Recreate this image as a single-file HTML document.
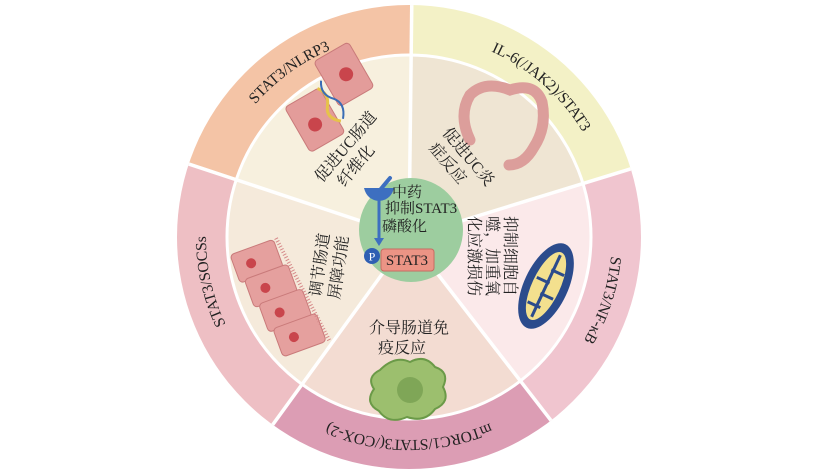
<!DOCTYPE html>
<html><head><meta charset="utf-8"><style>
html,body{margin:0;padding:0;background:#fff;width:817px;height:470px;overflow:hidden;}
svg{display:block;overflow:hidden;}
text{font-family:"Liberation Serif","Noto Serif CJK SC","Noto Sans CJK SC",serif;fill:#222;}
</style></head><body>
<svg width="817" height="470" viewBox="0 0 817 470" xmlns="http://www.w3.org/2000/svg">
<defs>
<clipPath id="outer"><circle cx="409" cy="237" r="232"/></clipPath>
<clipPath id="inner"><circle cx="409" cy="237" r="182"/></clipPath>
<path id="ring" d="M409 30 A207 207 0 1 1 408.99 30"/>
</defs>
<g clip-path="url(#outer)">
<polygon points="409,237 413,-100 -451,-48" fill="#f4c4a6"/>
<polygon points="409,237 413,-100 1304,-100 1304,-38" fill="#f3f1c6"/>
<polygon points="409,237 1304,-38 1304,967 974,967" fill="#f0c5cf"/>
<polygon points="409,237 974,967 -121,967" fill="#dc9db4"/>
<polygon points="409,237 -121,967 -451,967 -451,-48" fill="#eebfc4"/>
</g>
<g clip-path="url(#inner)">
<polygon points="409,237 413,-100 -451,-48" fill="#f7f0de"/>
<polygon points="409,237 413,-100 1304,-100 1304,-38" fill="#efe5d3"/>
<polygon points="409,237 1304,-38 1304,967 974,967" fill="#fbe9ea"/>
<polygon points="409,237 974,967 -121,967" fill="#f3dcd2"/>
<polygon points="409,237 -121,967 -451,967 -451,-48" fill="#f5eadb"/>
</g>
<circle cx="409" cy="237" r="182" fill="none" stroke="#fff" stroke-width="3"/>
<g stroke="#fff" stroke-width="3.5" clip-path="url(#outer)">
<line x1="409" y1="237" x2="413" y2="-100"/>
<line x1="409" y1="237" x2="-451" y2="-48"/>
<line x1="409" y1="237" x2="1304" y2="-38"/>
<line x1="409" y1="237" x2="974" y2="967"/>
<line x1="409" y1="237" x2="-121" y2="967"/>
</g>
<g font-size="15.5" dominant-baseline="middle" text-anchor="middle">
<text><textPath href="#ring" startOffset="90%">STAT3/NLRP3</textPath></text>
<text><textPath href="#ring" startOffset="11.5%">IL-6(/JAK2)/STAT3</textPath></text>
<text><textPath href="#ring" startOffset="30%">STAT3/NF-κB</textPath></text>
<text><textPath href="#ring" startOffset="50%">mTORC1/STAT3(/COX-2)</textPath></text>
<text><textPath href="#ring" startOffset="71.5%">STAT3/SOCSs</textPath></text>
</g>
<g transform="translate(-14 -12) rotate(-30 345 110)">
<rect x="300" y="95" width="40" height="52" rx="4" fill="#e39c9a" stroke="#c97a7a"/>
<rect x="348" y="70" width="40" height="52" rx="4" fill="#e39c9a" stroke="#c97a7a"/>
<circle cx="318" cy="125" r="7" fill="#c9454c"/>
<circle cx="370" cy="97" r="7" fill="#c9454c"/>
<path d="M338 95 q8 10 0 20 q-8 10 4 20" stroke="#e6c24a" stroke-width="3" fill="none"/>
<path d="M345 90 q-8 12 2 22 q8 10 -2 22" stroke="#3a6db5" stroke-width="2" fill="none"/>
</g>
<path d="M470 140 q-12 -25 0 -45 q15 -15 40 -5 q25 -8 32 12 q5 25 -8 45 q-10 18 -25 18" stroke="#dc9e9b" stroke-width="11" fill="none" stroke-linecap="round"/>
<g transform="rotate(-65 546 286)">
<ellipse cx="546" cy="286" rx="46" ry="22" fill="#2b4b8c"/>
<ellipse cx="546" cy="286" rx="37" ry="14" fill="#f3e08e"/>
<path d="M512 286 h68 M524 276 v14 M537 298 v-14 M550 274 v14 M563 298 v-14" stroke="#2b4b8c" stroke-width="3"/>
</g>
<g transform="rotate(-20 280 290)">
<rect x="245" y="240" width="46" height="30" rx="4" fill="#e5a09e" stroke="#c97a7a"/>
<rect x="250" y="268" width="46" height="30" rx="4" fill="#e5a09e" stroke="#c97a7a"/>
<rect x="255" y="296" width="46" height="30" rx="4" fill="#e5a09e" stroke="#c97a7a"/>
<rect x="260" y="324" width="46" height="30" rx="4" fill="#e5a09e" stroke="#c97a7a"/>
<circle cx="262" cy="255" r="5" fill="#c9454c"/><circle cx="267" cy="283" r="5" fill="#c9454c"/>
<circle cx="272" cy="311" r="5" fill="#c9454c"/><circle cx="277" cy="339" r="5" fill="#c9454c"/>
<line x1="294" y1="240" x2="309" y2="354" stroke="#d68a8a" stroke-width="4" stroke-dasharray="1 2"/>
</g>
<path d="M380 370 q15 -15 30 -8 q15 -8 25 5 q15 5 8 20 q8 15 -8 22 q-10 14 -28 8 q-18 8 -28 -6 q-15 -8 -5 -22 q-8 -12 6 -19z" fill="#9cbf6e" stroke="#6b9a48" stroke-width="2"/>
<circle cx="410" cy="390" r="13" fill="#7fa657"/>
<g font-size="16">
<text transform="translate(352 152) rotate(-50)" text-anchor="middle"><tspan x="0" y="-3">促进UC肠道</tspan><tspan x="-8" y="17">纤维化</tspan></text>
<text transform="translate(462 162) rotate(50)" text-anchor="middle"><tspan x="0" y="-3">促进UC炎</tspan><tspan x="-8" y="17">症反应</tspan></text>
<text transform="translate(493 256) rotate(90)" text-anchor="middle"><tspan x="0" y="-12">抑制细胞自</tspan><tspan x="0" y="6">噬，加重氧</tspan><tspan x="0" y="24">化应激损伤</tspan></text>
<text transform="translate(328 266) rotate(-82)" text-anchor="middle"><tspan x="0" y="-3">调节肠道</tspan><tspan x="0" y="16">屏障功能</tspan></text>
<text x="409" y="333" text-anchor="middle">介导肠道免</text>
<text x="378" y="353" text-anchor="start">疫反应</text>
</g>
<circle cx="411" cy="230" r="52" fill="#9dcd9f"/>
<path d="M364 188 h30 q-3 12 -15 13 q-12 -1 -15 -13z" fill="#3d6fc0"/>
<line x1="380" y1="190" x2="390" y2="178" stroke="#3d6fc0" stroke-width="4" stroke-linecap="round"/>
<line x1="379" y1="200" x2="379" y2="240" stroke="#3d6fc0" stroke-width="3"/>
<polygon points="374,238 384,238 379,246" fill="#3d6fc0"/>
<g font-size="15">
<text x="392" y="197">中药</text>
<text x="385" y="213">抑制STAT3</text>
<text x="382" y="231">磷酸化</text>
</g>
<rect x="381" y="249" width="53" height="22" rx="3" fill="#eb9485" stroke="#c86b62"/>
<text x="407" y="265" font-size="15" text-anchor="middle">STAT3</text>
<circle cx="372" cy="256" r="8" fill="#2f5fb3"/>
<text x="372" y="260.5" font-size="12" text-anchor="middle" style="fill:#fff">P</text>
</svg>
</body></html>
